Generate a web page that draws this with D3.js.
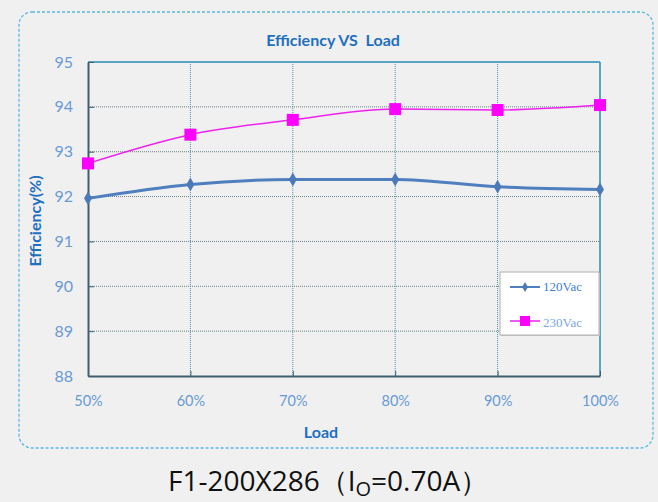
<!DOCTYPE html>
<html>
<head>
<meta charset="utf-8">
<script src="https://cdn.jsdelivr.net/npm/d3@7"></script>
<style>
  body { margin: 0; background: #f0f0f0; }
  svg { display: block; }
</style>
</head>
<body>
<div id="chart"></div>
<script>
// chart data
var loads = ["50%", "60%", "70%", "80%", "90%", "100%"];
var eff120 = [91.96, 92.27, 92.38, 92.38, 92.22, 92.16];
var eff230 = [92.74, 93.38, 93.71, 93.95, 93.93, 94.04];
var seriesNames = ["120Vac", "230Vac"];
var yTicks = [88, 89, 90, 91, 92, 93, 94, 95];

var svgWidth = 658, svgHeight = 502;
var margin = { top: 62, left: 88, right: 58, bottom: 126 };
var width = svgWidth - margin.left - margin.right;
var height = svgHeight - margin.top - margin.bottom;

var svg = d3.select("#chart").append("svg")
  .attr("width", svgWidth)
  .attr("height", svgHeight);

svg.append("rect")
  .attr("width", svgWidth).attr("height", svgHeight)
  .attr("fill", "#f0f0f0");

// outer dashed frame
svg.append("rect")
  .attr("x", 19).attr("y", 12)
  .attr("width", 634).attr("height", 436)
  .attr("rx", 13).attr("ry", 13)
  .attr("fill", "none")
  .attr("stroke", "#5bb8e0")
  .attr("stroke-width", 1.3)
  .attr("stroke-dasharray", "3,2");

var chartGroup = svg.append("g")
  .attr("transform", `translate(${margin.left}, ${margin.top})`);

var xScale = d3.scalePoint().domain(loads).range([0, width]);
var yScale = d3.scaleLinear().domain([88, 95]).range([height, 0]);

// grid
chartGroup.append("g")
  .selectAll("line")
  .data(yTicks.slice(1, -1))
  .enter().append("line")
  .attr("x1", 0).attr("x2", width)
  .attr("y1", d => yScale(d)).attr("y2", d => yScale(d))
  .attr("stroke", "#6a7f8a")
  .attr("stroke-width", 1)
  .attr("stroke-dasharray", "1,1");

chartGroup.append("g")
  .selectAll("line")
  .data(loads.slice(1, -1))
  .enter().append("line")
  .attr("x1", d => xScale(d)).attr("x2", d => xScale(d))
  .attr("y1", 0).attr("y2", height)
  .attr("stroke", "#4a90a8")
  .attr("stroke-width", 1)
  .attr("stroke-dasharray", "1,1");

// plot frame: top/right light blue, left/bottom dark
chartGroup.append("line")
  .attr("x1", 0).attr("x2", width).attr("y1", 0).attr("y2", 0)
  .attr("stroke", "#5aa3c3").attr("stroke-width", 2);
chartGroup.append("line")
  .attr("x1", width).attr("x2", width).attr("y1", 0).attr("y2", height)
  .attr("stroke", "#5aa3c3").attr("stroke-width", 2);

var xAxis = d3.axisBottom(xScale).tickSize(-5).tickPadding(20).tickSizeOuter(0);
var yAxis = d3.axisLeft(yScale).tickValues(yTicks).tickFormat(d3.format("d"))
  .tickSize(-6).tickPadding(15).tickSizeOuter(0);

var gx = chartGroup.append("g")
  .attr("transform", `translate(0, ${height})`)
  .call(xAxis);
var gy = chartGroup.append("g").call(yAxis);

[gx, gy].forEach(function(g) {
  g.select(".domain").attr("stroke", "#3f5f6f").attr("stroke-width", 2);
  g.selectAll(".tick line").attr("stroke", "#3f5f6f");
  g.selectAll(".tick text")
    .attr("fill", "#6a9ad5")
    .attr("font-family", "Lato, 'Open Sans', sans-serif")
    .attr("font-size", "14.5px");
});
gy.selectAll(".tick text").attr("font-size", "16px");

// lines
var lineGen = d3.line()
  .x((d, i) => xScale(loads[i]))
  .y(d => yScale(d))
  .curve(d3.curveMonotoneX);

chartGroup.append("path")
  .datum(eff230)
  .attr("d", lineGen)
  .attr("fill", "none")
  .attr("stroke", "#ee22ee")
  .attr("stroke-width", 1.5);

chartGroup.append("path")
  .datum(eff120)
  .attr("d", lineGen)
  .attr("fill", "none")
  .attr("stroke", "#4f7fbf")
  .attr("stroke-width", 3);

var diamond = d3.symbol().type(d3.symbolDiamond).size(55);

chartGroup.selectAll(".m120")
  .data(eff120)
  .enter().append("path")
  .attr("class", "m120")
  .attr("d", diamond)
  .attr("transform", (d, i) => `translate(${xScale(loads[i])}, ${yScale(d)})`)
  .attr("fill", "#4a7ab8");

chartGroup.selectAll(".m230")
  .data(eff230)
  .enter().append("rect")
  .attr("class", "m230")
  .attr("x", (d, i) => xScale(loads[i]) - 6)
  .attr("y", d => yScale(d) - 6)
  .attr("width", 12).attr("height", 12)
  .attr("fill", "#ff00ff");

// legend
var legend = svg.append("g").attr("transform", "translate(500, 272)");
legend.append("rect")
  .attr("x", 1).attr("y", 1).attr("width", 99).attr("height", 63)
  .attr("fill", "#c8c8c8");
legend.append("rect")
  .attr("width", 99).attr("height", 63)
  .attr("fill", "#ffffff").attr("stroke", "#b0b0b0");

legend.append("line")
  .attr("x1", 10).attr("x2", 40).attr("y1", 15).attr("y2", 15)
  .attr("stroke", "#4f7fbf").attr("stroke-width", 2);
legend.append("path")
  .attr("d", d3.symbol().type(d3.symbolDiamond).size(30))
  .attr("transform", "translate(25, 15)")
  .attr("fill", "#4a7ab8");
legend.append("line")
  .attr("x1", 10).attr("x2", 40).attr("y1", 49).attr("y2", 49)
  .attr("stroke", "#ee22ee").attr("stroke-width", 1.5);
legend.append("rect")
  .attr("x", 20).attr("y", 44).attr("width", 10).attr("height", 10)
  .attr("fill", "#ff00ff");

legend.selectAll(".ltext")
  .data(seriesNames)
  .enter().append("text")
  .attr("class", "ltext")
  .attr("x", 43)
  .attr("y", (d, i) => i === 0 ? 19 : 55)
  .attr("fill", (d, i) => i === 0 ? "#3f7fd8" : "#7aa8e0")
  .attr("font-family", "'Liberation Serif', serif")
  .attr("font-size", "13px")
  .text(d => d);

// titles
svg.append("text")
  .attr("x", 333).attr("y", 46)
  .attr("text-anchor", "middle")
  .attr("fill", "#1f6fc0")
  .attr("font-family", "Lato, 'Open Sans', sans-serif")
  .attr("font-weight", "bold")
  .attr("font-size", "16px")
  .attr("xml:space", "preserve")
  .text("Efficiency VS  Load");

svg.append("text")
  .attr("transform", "translate(41, 221) rotate(-90)")
  .attr("text-anchor", "middle")
  .attr("fill", "#1f6fc0")
  .attr("font-family", "Lato, 'Open Sans', sans-serif")
  .attr("font-weight", "bold")
  .attr("font-size", "16px")
  .text("Efficiency(%)");

svg.append("text")
  .attr("x", 321).attr("y", 438)
  .attr("text-anchor", "middle")
  .attr("fill", "#1f6fc0")
  .attr("font-family", "Lato, 'Open Sans', sans-serif")
  .attr("font-weight", "bold")
  .attr("font-size", "16px")
  .text("Load");

// caption
var cap = svg.append("text")
  .attr("x", 168).attr("y", 491)
  .attr("fill", "#111")
  .attr("font-family", "'Open Sans', 'Noto Sans', sans-serif")
  .attr("font-size", "28px");
cap.append("tspan").text("F1-200X286（I");
cap.append("tspan").attr("font-size", "20px").attr("dy", 5).text("O");
cap.append("tspan").attr("dy", -5).text("=0.70A）");
</script>
</body>
</html>
